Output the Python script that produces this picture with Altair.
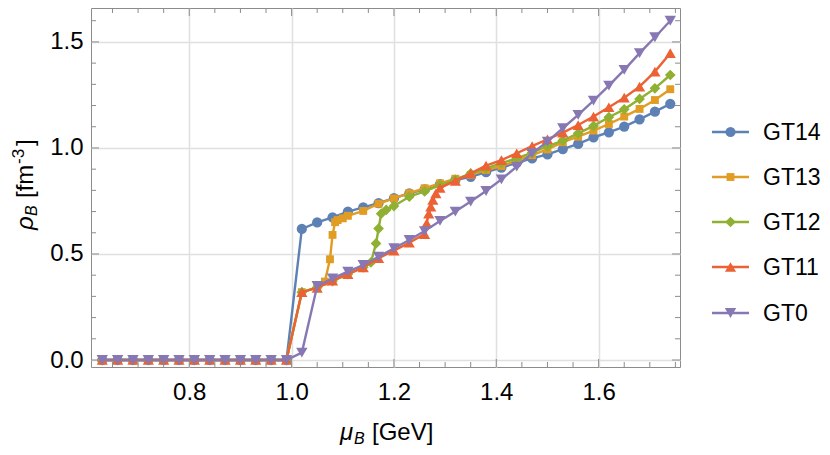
import altair as alt
import pandas as pd

names = ["GT14", "GT13", "GT12", "GT11", "GT0"]
colors = ["#5E81B5", "#E19C24", "#8FB032", "#EB6235", "#8778B3"]
shapes = ["circle", "square", "diamond", "triangle-up", "triangle-down"]
sizes = [105, 62, 115, 125, 130]

mu_low = [0.63, 0.66, 0.69, 0.72, 0.75, 0.78, 0.81, 0.84, 0.87, 0.90, 0.93, 0.96, 0.99]
rho_low = [0.0, 0.0, 0.0, 0.0, 0.0, 0.0, 0.0, 0.0, 0.0, 0.0, 0.0, 0.0, 0.0]

mu_gt14 = [1.02, 1.05, 1.08, 1.11, 1.14, 1.17, 1.20, 1.23, 1.26, 1.29, 1.32, 1.35, 1.38,
           1.41, 1.44, 1.47, 1.50, 1.53, 1.56, 1.59, 1.62, 1.65, 1.68, 1.71, 1.74]
rho_gt14 = [0.618, 0.649, 0.673, 0.700, 0.720, 0.740, 0.763, 0.786, 0.805, 0.830, 0.849, 0.864, 0.886,
            0.907, 0.930, 0.951, 0.970, 0.995, 1.019, 1.050, 1.074, 1.101, 1.135, 1.171, 1.208]

mu_gt13 = [1.02, 1.05, 1.065, 1.075, 1.08, 1.085, 1.09, 1.10, 1.11, 1.14, 1.17, 1.20, 1.23, 1.26,
           1.29, 1.32, 1.35, 1.38, 1.41, 1.44, 1.47, 1.50, 1.53, 1.56, 1.59, 1.62, 1.65, 1.68, 1.71, 1.74]
rho_gt13 = [0.320, 0.343, 0.370, 0.475, 0.590, 0.650, 0.660, 0.668, 0.680, 0.703, 0.737, 0.762, 0.787, 0.810,
            0.833, 0.855, 0.873, 0.896, 0.915, 0.940, 0.966, 0.993, 1.027, 1.053, 1.082, 1.113, 1.148, 1.184, 1.226, 1.277]

mu_gt12 = [1.02, 1.05, 1.08, 1.11, 1.14, 1.155, 1.165, 1.17, 1.175, 1.185, 1.20, 1.23, 1.26, 1.29,
           1.32, 1.35, 1.38, 1.41, 1.44, 1.47, 1.50, 1.53, 1.56, 1.59, 1.62, 1.65, 1.68, 1.71, 1.74]
rho_gt12 = [0.320, 0.342, 0.372, 0.405, 0.437, 0.460, 0.550, 0.620, 0.690, 0.708, 0.726, 0.770, 0.795, 0.825,
            0.850, 0.880, 0.904, 0.928, 0.951, 0.978, 1.008, 1.035, 1.069, 1.104, 1.145, 1.182, 1.231, 1.281, 1.344]

mu_gt11 = [1.02, 1.05, 1.08, 1.11, 1.14, 1.17, 1.20, 1.23, 1.26, 1.264, 1.268, 1.272, 1.276, 1.282, 1.29,
           1.32, 1.35, 1.38, 1.41, 1.44, 1.47, 1.50, 1.53, 1.56, 1.59, 1.62, 1.65, 1.68, 1.71, 1.74]
rho_gt11 = [0.320, 0.340, 0.374, 0.405, 0.437, 0.480, 0.516, 0.553, 0.594, 0.645, 0.690, 0.723, 0.755, 0.786, 0.812,
            0.845, 0.880, 0.917, 0.943, 0.975, 1.009, 1.041, 1.072, 1.108, 1.148, 1.192, 1.237, 1.289, 1.360, 1.447]

mu_gt0 = [1.02, 1.05, 1.08, 1.11, 1.14, 1.17, 1.20, 1.23, 1.26, 1.29, 1.32, 1.35, 1.38,
          1.41, 1.44, 1.47, 1.50, 1.53, 1.56, 1.59, 1.62, 1.65, 1.68, 1.71, 1.74]
rho_gt0 = [0.035, 0.349, 0.385, 0.417, 0.448, 0.487, 0.527, 0.566, 0.608, 0.656, 0.700, 0.747, 0.797,
           0.852, 0.912, 0.975, 1.030, 1.093, 1.156, 1.223, 1.294, 1.368, 1.447, 1.522, 1.600]

x_major = [0.8, 1.0, 1.2, 1.4, 1.6]
x_minor = [0.65, 0.7, 0.75, 0.85, 0.9, 0.95, 1.05, 1.1, 1.15, 1.25, 1.3, 1.35, 1.45, 1.5, 1.55, 1.65, 1.7, 1.75]
y_major = [0.0, 0.5, 1.0, 1.5]
y_minor = [0.1, 0.2, 0.3, 0.4, 0.6, 0.7, 0.8, 0.9, 1.1, 1.2, 1.3, 1.4, 1.6]

series_mu = [mu_gt14, mu_gt13, mu_gt12, mu_gt11, mu_gt0]
series_rho = [rho_gt14, rho_gt13, rho_gt12, rho_gt11, rho_gt0]

W, H = 589, 359
FONT = "Liberation Sans"
FRAME = "#8c8c8c"

xs = alt.Scale(domain=[0.608, 1.759], nice=False, zero=False)
ys = alt.Scale(domain=[-0.033, 1.660], nice=False, zero=False)
ax_x = alt.Axis(values=x_major, format=".1f", ticks=False, domain=False, grid=True,
                gridColor="#e0e0e0", gridWidth=1.5, labelFont=FONT, labelFontSize=24,
                labelColor="black", labelPadding=13, title="", labelFlush=False)
ax_y = alt.Axis(values=y_major, format=".1f", ticks=False, domain=False, grid=True,
                gridColor="#e0e0e0", gridWidth=1.5, labelFont=FONT, labelFontSize=24,
                labelColor="black", labelPadding=8, title="", labelFlush=False)

X = lambda: alt.X("mu:Q", scale=xs, axis=ax_x)
Y = lambda: alt.Y("rho:Q", scale=ys, axis=ax_y)

layers = []
for i, nm in enumerate(names):
    df = pd.DataFrame({"mu": mu_low + series_mu[i], "rho": rho_low + series_rho[i]})
    base = alt.Chart(df).encode(x=X(), y=Y())
    layers.append(base.mark_line(color=colors[i], strokeWidth=2.4))
    layers.append(base.mark_point(shape=shapes[i], filled=True, opacity=1,
                                  color=colors[i], size=sizes[i]))

# inward frame ticks
for vals, ln in [(x_major, 8), (x_minor, 5)]:
    tdf = pd.DataFrame({"mu": vals})
    layers.append(alt.Chart(tdf).mark_rule(color=FRAME, strokeWidth=1).encode(
        x=X(), y=alt.value(H), y2=alt.value(H - ln)))
    layers.append(alt.Chart(tdf).mark_rule(color=FRAME, strokeWidth=1).encode(
        x=X(), y=alt.value(0), y2=alt.value(ln)))
for vals, ln in [(y_major, 8), (y_minor, 5)]:
    tdf = pd.DataFrame({"rho": vals})
    layers.append(alt.Chart(tdf).mark_rule(color=FRAME, strokeWidth=1).encode(
        y=Y(), x=alt.value(0), x2=alt.value(ln)))
    layers.append(alt.Chart(tdf).mark_rule(color=FRAME, strokeWidth=1).encode(
        y=Y(), x=alt.value(W), x2=alt.value(W - ln)))

one = pd.DataFrame({"k": [0]})

def txt(t, x, y, size=24, italic=False, angle=0, align="left"):
    kw = dict(text=t, font=FONT, fontSize=size, color="black", align=align, baseline="alphabetic")
    if italic:
        kw["fontStyle"] = "italic"
    if angle:
        kw["angle"] = angle
    return alt.Chart(one).mark_text(**kw).encode(x=alt.value(x), y=alt.value(y))

# x-axis title: mu_B [GeV]
layers.append(txt("μ", 249, 432, italic=True))
layers.append(txt("B", 263, 436, size=16, italic=True))
layers.append(txt("[GeV]", 281, 432))
# y-axis title: rho_B [fm^-3]
layers.append(txt("ρ", -58, 222, italic=True, angle=270))
layers.append(txt("B", -54, 208, size=16, italic=True, angle=270))
layers.append(txt("[fm", -58, 190, angle=270))
layers.append(txt("-3", -67, 156, size=17, angle=270))
layers.append(txt("]", -58, 138, angle=270))

# legend
leg_y = [124, 169, 214, 259, 305]
for i, nm in enumerate(names):
    layers.append(alt.Chart(one).mark_rule(color=colors[i], strokeWidth=2.6).encode(
        x=alt.value(621), x2=alt.value(658), y=alt.value(leg_y[i])))
    layers.append(alt.Chart(one).mark_point(shape=shapes[i], filled=True, opacity=1,
                                            color=colors[i], size=sizes[i]).encode(
        x=alt.value(639.5), y=alt.value(leg_y[i])))
    layers.append(alt.Chart(one).mark_text(text=nm, font=FONT, fontSize=23, color="black",
                                           align="left", baseline="middle").encode(
        x=alt.value(672), y=alt.value(leg_y[i] + 1)))

chart = alt.layer(*layers).properties(
    width=W, height=H,
    autosize=alt.AutoSizeParams(type="none"),
    padding={"left": 83, "top": 0, "right": 142, "bottom": 80},
).configure_view(stroke=FRAME, strokeWidth=1)

chart.save("out.html", embed_options={"renderer": "svg", "actions": False})
